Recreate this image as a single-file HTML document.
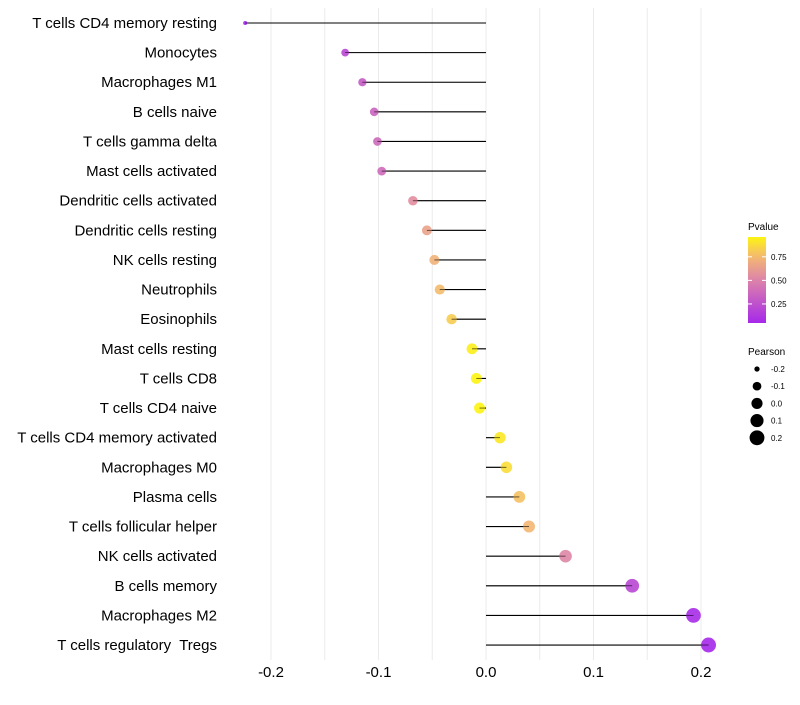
<!DOCTYPE html>
<html><head><meta charset="utf-8"><style>
body{margin:0;background:#fff;font-family:"Liberation Sans",sans-serif;}
svg text{font-family:"Liberation Sans",sans-serif;white-space:pre;}
</style></head><body>
<svg id="chart" width="800" height="700"></svg>
<script>
const categories=["T cells CD4 memory resting","Monocytes","Macrophages M1","B cells naive","T cells gamma delta","Mast cells activated","Dendritic cells activated","Dendritic cells resting","NK cells resting","Neutrophils","Eosinophils","Mast cells resting","T cells CD8","T cells CD4 naive","T cells CD4 memory activated","Macrophages M0","Plasma cells","T cells follicular helper","NK cells activated","B cells memory","Macrophages M2","T cells regulatory  Tregs"];
const pearson=[-0.224,-0.131,-0.115,-0.104,-0.101,-0.097,-0.068,-0.055,-0.048,-0.043,-0.032,-0.013,-0.009,-0.006,0.013,0.019,0.031,0.040,0.074,0.136,0.193,0.207];
const pvalues=[0.03,0.2,0.3,0.35,0.37,0.38,0.55,0.65,0.72,0.76,0.82,0.94,0.96,0.96,0.92,0.88,0.78,0.74,0.52,0.2,0.06,0.04];
const xTicks=[-0.2,-0.1,0.0,0.1,0.2];
const xTickLabels=["-0.2","-0.1","0.0","0.1","0.2"];
const pLegendTicks=[0.25,0.5,0.75];
const pLegendLabels=["0.25","0.50","0.75"];
const sizeLegend=[-0.2,-0.1,0.0,0.1,0.2];
const sizeLegendLabels=["-0.2","-0.1","0.0","0.1","0.2"];

const NS="http://www.w3.org/2000/svg";
const svg=document.getElementById('chart');
const x=v=>486+v*1075;
const y=i=>23+i*29.62;
const r=v=>Math.sqrt(Math.max(3,31+120*v));
const stops=[[0,[160,32,240]],[0.5,[220,130,170]],[0.75,[244,184,114]],[1,[255,255,0]]];
function col(p){for(let k=1;k<stops.length;k++){if(p<=stops[k][0]){const a=stops[k-1],b=stops[k],t=(p-a[0])/(b[0]-a[0]);const c=a[1].map((v,j)=>Math.round(v+(b[1][j]-v)*t));return `rgb(${c})`;}}return 'rgb(255,255,0)';}
function el(tag,attrs,parent){const e=document.createElementNS(NS,tag);for(const k in attrs)e.setAttribute(k,attrs[k]);(parent||svg).appendChild(e);return e;}

const grid=el('g',{});


for(let v=-0.25;v<=0.251;v+=0.05){const xx=x(v);if(xx<240||xx>720)continue;
 el('line',{x1:xx,x2:xx,y1:8,y2:660,stroke:'#ebebeb','stroke-width':1},grid);}

categories.forEach((c,i)=>{
 const g=el('g',{});
 
 
 el('line',{x1:x(0),x2:x(pearson[i]),y1:y(i),y2:y(i),stroke:'#000','stroke-width':1.1},g);
 const cc=el('circle',{cx:x(pearson[i]),cy:y(i),r:r(pearson[i]),fill:col(pvalues[i]),opacity:0.9},g);
 
 
 el('line',{x1:x(0),x2:x(pearson[i]),y1:y(i),y2:y(i),stroke:'#000','stroke-width':0.8,opacity:0.6},g);
 const t=el('text',{x:217,y:y(i)+5,'text-anchor':'end','font-size':15,fill:'#000'});
 
 
 t.textContent=c;
});
xTicks.forEach((v,i)=>{
 const t=el('text',{x:x(v),y:677,'text-anchor':'middle','font-size':15,fill:'#000'});
 
 
 t.textContent=xTickLabels[i];
});
const lg=el('g',{});


const defs=el('defs',{});
const grad=el('linearGradient',{id:'pg',x1:0,y1:1,x2:0,y2:0},defs);
const p0=0.048,p1=0.96;
for(let k=0;k<=10;k++){const p=p0+(p1-p0)*k/10;el('stop',{offset:k/10,'stop-color':col(p)},grad);}
const tt=el('text',{x:748,y:230,'font-size':10,fill:'#000'},lg);tt.textContent='Pvalue';
el('rect',{x:748,y:237,width:18,height:86,fill:'url(#pg)'},lg);
const py=p=>323-(p-p0)/(p1-p0)*86;
pLegendTicks.forEach((p,i)=>{
 el('line',{x1:748,x2:752,y1:py(p),y2:py(p),stroke:'#fff'},lg);
 el('line',{x1:762,x2:766,y1:py(p),y2:py(p),stroke:'#fff'},lg);
 const t=el('text',{x:771,y:py(p)+3,'font-size':8,fill:'#000'},lg);t.textContent=pLegendLabels[i];
});
const sg=el('g',{});


const st=el('text',{x:748,y:355,'font-size':10,fill:'#000'},sg);st.textContent='Pearson';
sizeLegend.forEach((v,i)=>{
 const yy=369+i*17.2;
 el('circle',{cx:757,cy:yy,r:r(v),fill:'#000'},sg);
 const t=el('text',{x:771,y:yy+3,'font-size':8,fill:'#000'},sg);t.textContent=sizeLegendLabels[i];
});
</script>
</body></html>
